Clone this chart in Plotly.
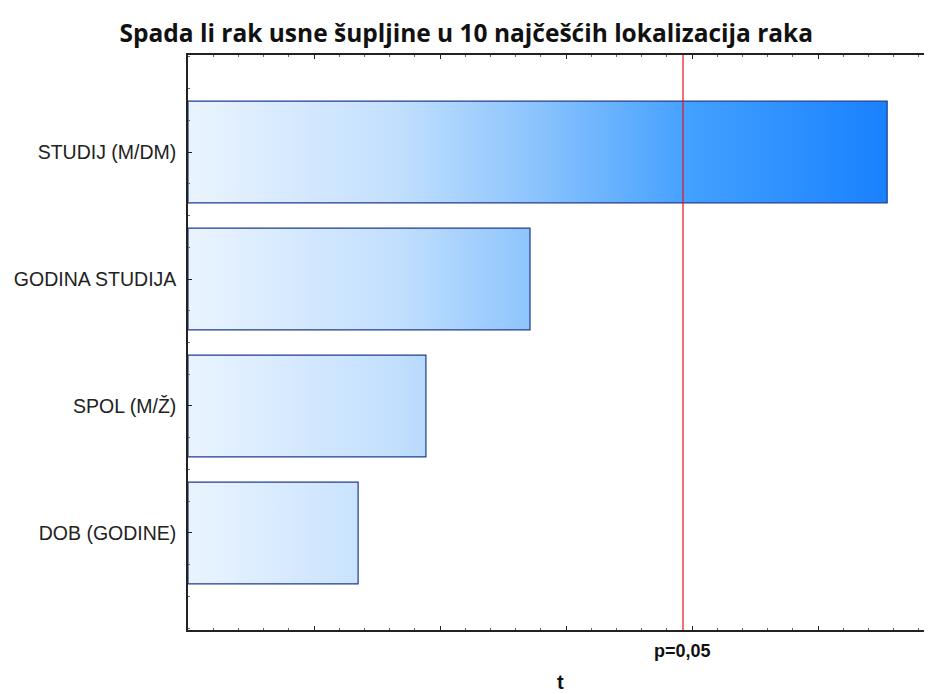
import plotly.graph_objects as go

# t values per factor, top to bottom
factors = ['STUDIJ (M/DM)', 'GODINA STUDIJA', 'SPOL (M/Ž)', 'DOB (GODINE)']
t_values = [2.774, 1.357, 0.944, 0.675]
t_crit = 1.964
crit_label = 'p=0,05'

half = 0.4
grad = [[0, '#eaf4ff'], [0.3, '#c2dffe'], [0.5, '#8ac3fd'], [0.72, '#42a0ff'], [1, '#1981ff']]

fig = go.Figure()
for i, (name, v) in enumerate(zip(factors, t_values)):
    fig.add_trace(go.Scatter(
        x=[0, v, v, 0, 0],
        y=[i - half, i - half, i + half, i + half, i - half],
        mode='lines', fill='toself', name=name,
        line=dict(color='#1f3a8f', width=1.2),
        fillgradient=dict(type='horizontal', colorscale=grad, start=0, stop=max(t_values)),
        hoverinfo='skip', showlegend=False,
    ))

fig.add_vline(x=t_crit, line=dict(color='#e0141e', width=1.2), layer='above')
fig.add_annotation(x=t_crit, y=-0.036, xref='x', yref='paper', yanchor='middle',
                   text='<b>%s</b>' % crit_label, showarrow=False,
                   font=dict(family='Liberation Sans', size=18, color='#111'))
fig.add_annotation(x=0.5, y=-0.09, xref='paper', yref='paper', yanchor='middle',
                   text='<b>t</b>', showarrow=False,
                   font=dict(family='Liberation Sans', size=20, color='#111'))

# page body has an 8px margin, so the figure is 8px smaller than the window
fig.update_layout(
    width=924, height=686,
    margin=dict(l=180, r=0, t=47, b=64),
    paper_bgcolor='white', plot_bgcolor='white',
    title=dict(text='<b>Spada li rak usne šupljine u 10 najčešćih lokalizacija raka</b>',
               x=0.496, xanchor='center', y=0.9636, yanchor='middle',
               font=dict(family='Open Sans', size=24.5, color='#111')),
    xaxis=dict(range=[0, 2.952], dtick=0.5, tick0=0, showticklabels=False,
               ticks='inside', ticklen=4, tickcolor='#222',
               showline=True, linecolor='#222', linewidth=1.5, mirror='ticks',
               showgrid=False, zeroline=False,
               minor=dict(dtick=0.1, ticks='inside', ticklen=2, tickcolor='#666', showgrid=False)),
    yaxis=dict(range=[3.764, -0.764], tickvals=list(range(len(factors))), ticktext=factors,
               ticks='inside', ticklen=4, tickcolor='#222',
               showline=True, linecolor='#222', linewidth=1.5,
               showgrid=False, zeroline=False, ticklabelstandoff=6,
               minor=dict(dtick=0.25, tick0=0, ticks='inside', ticklen=2, tickcolor='#666', showgrid=False),
               tickfont=dict(family='Liberation Sans', size=19.5, color='#222')),
)

fig.write_html('out.html')
